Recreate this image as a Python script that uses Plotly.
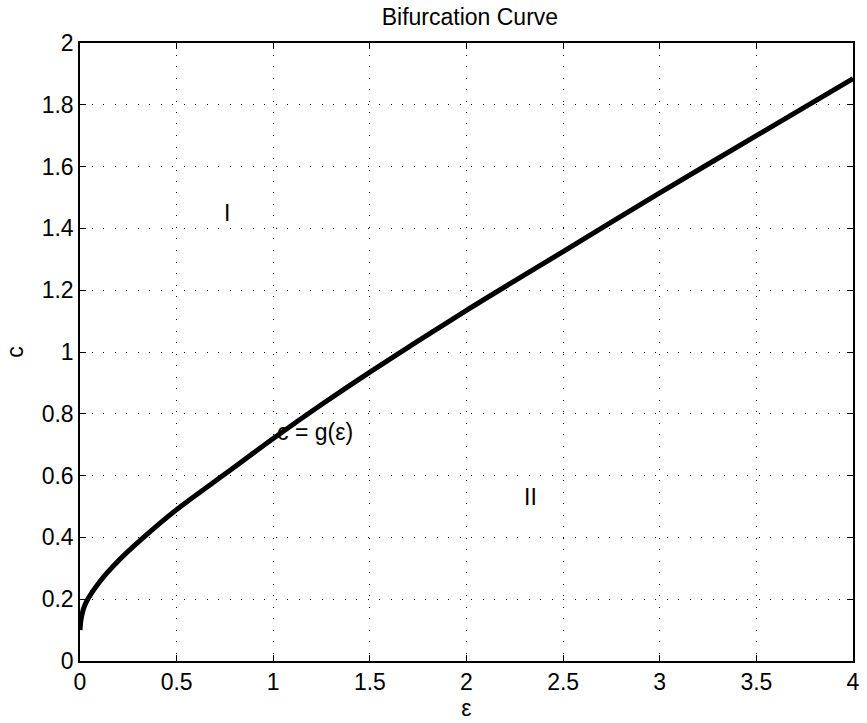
import plotly.graph_objects as go

eps_vals = [0.0, 0.004, 0.01, 0.02, 0.04, 0.1, 0.2, 0.32, 0.5, 0.75, 1.0, 1.25, 1.5, 2.0, 2.5, 3.0, 3.5, 4.0]
c_vals = [0.10, 0.128, 0.15, 0.173, 0.20, 0.255, 0.325, 0.395, 0.49, 0.605, 0.72, 0.83, 0.935, 1.135, 1.325, 1.515, 1.70, 1.885]

x_ticks = [0, 0.5, 1, 1.5, 2, 2.5, 3, 3.5, 4]
x_tick_labels = ["0", "0.5", "1", "1.5", "2", "2.5", "3", "3.5", "4"]
y_ticks = [0, 0.2, 0.4, 0.6, 0.8, 1, 1.2, 1.4, 1.6, 1.8, 2]
y_tick_labels = ["0", "0.2", "0.4", "0.6", "0.8", "1", "1.2", "1.4", "1.6", "1.8", "2"]

title_text = "Bifurcation Curve"
x_label = "ε"
y_label = "c"
notes = [("I", 0.76, 1.45), ("II", 2.33, 0.53), ("c = g(ε)", 1.215, 0.74)]

FONT = "Liberation Sans, Arial, Helvetica, sans-serif"
FS = 23

fig = go.Figure()
fig.add_trace(go.Scatter(x=eps_vals, y=c_vals, mode="lines",
                         line=dict(color="black", width=5, shape="spline", smoothing=0.8),
                         showlegend=False, hoverinfo="skip"))

for txt, xv, yv in notes:
    fig.add_annotation(x=xv, y=yv, text=txt, showarrow=False,
                       font=dict(family=FONT, size=FS, color="black"),
                       xanchor="center", yanchor="middle")

axis_common = dict(
    showline=True, linecolor="black", linewidth=1.5, mirror="allticks",
    ticks="inside", ticklen=6, tickwidth=1, tickcolor="black",
    showgrid=True, gridcolor="black", gridwidth=1, griddash="1px,10.5px",
    zeroline=False,
    tickfont=dict(family=FONT, size=FS, color="black"),
)

fig.update_xaxes(range=[0, 4], tickmode="array", tickvals=x_ticks, ticktext=x_tick_labels,
                 title=dict(text=x_label, font=dict(family=FONT, size=FS, color="black"), standoff=0),
                 **axis_common)
fig.update_yaxes(range=[0, 2], tickmode="array", tickvals=y_ticks, ticktext=y_tick_labels,
                 title=dict(text=y_label, font=dict(family=FONT, size=FS, color="black"), standoff=12),
                 **axis_common)

fig.update_layout(
    width=867, height=723,
    margin=dict(l=80, r=7, t=43, b=62),
    paper_bgcolor="white", plot_bgcolor="white",
    title=dict(text=title_text, x=0.542, xanchor="center", y=0.976, yanchor="middle",
               font=dict(family=FONT, size=FS, color="black")),
)

fig.write_html("out.html")
